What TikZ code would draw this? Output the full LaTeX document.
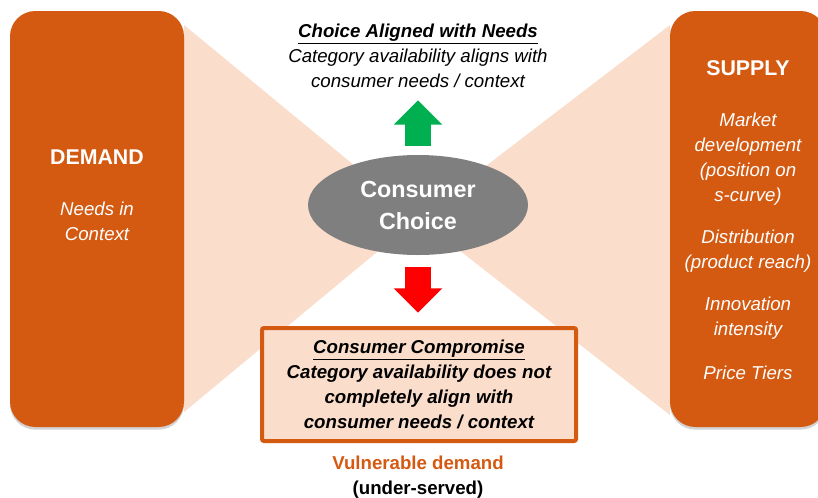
\documentclass[tikz,border=0pt]{standalone}
\usepackage{fontspec}
\setmainfont{Liberation Sans}
\usetikzlibrary{shapes.geometric, shapes.arrows, shadows, positioning}

\definecolor{boxorange}{RGB}{212,90,18}
\definecolor{funnelbeige}{RGB}{251,221,203}
\definecolor{choicegray}{RGB}{127,127,127}
\definecolor{upgreen}{RGB}{0,176,80}
\definecolor{downred}{RGB}{255,0,0}

\tikzset{
  panel/.style={fill=boxorange, rounded corners=19pt, inner sep=0pt,
    drop shadow={opacity=0.35, shadow xshift=0pt, shadow yshift=-2pt}},
  panelhead/.style={text=white, font=\fontsize{16}{18}\selectfont\bfseries},
  paneltext/.style={text=white, align=center, inner sep=0pt,
    font=\fontsize{14}{18.75}\selectfont\itshape},
  blockarrow/.style={single arrow, inner xsep=0pt, inner ysep=9.4pt, minimum height=34pt,
    minimum width=36pt, single arrow head extend=8.6pt},
}

\begin{document}
\begin{tikzpicture}[x=0.75pt, y=-0.75pt]
        \useasboundingbox (0,0) rectangle (818,497);
        \clip (0,0) rectangle (818,497);
        % funnels behind everything
        \fill[funnelbeige] (184,25) -- (418,218) -- (184,412) -- cycle;
        \fill[funnelbeige] (670,25) -- (418,218) -- (670,415) -- cycle;
        % Demand side
        \node[panel, minimum width=130.5pt, minimum height=312pt] (demandbox) at (97,219) {};
        \node[panelhead] (demand) at (97,157) {DEMAND};
        \node[paneltext] (needs) at (97,221.5) {Needs in\\Context};
        % Supply side
        \node[panel, minimum width=117pt, minimum height=312pt] (supplybox) at (748,219) {};
        \node[panelhead] (supply) at (748,68) {SUPPLY};
        \node[paneltext] (market) at (748,159) {Market\\development\\(position on\\s-curve)};
        \node[paneltext] (distribution) at (748,251.5) {Distribution\\(product reach)};
        \node[paneltext] (innovation) at (748,318) {Innovation\\intensity};
        \node[paneltext] (price) at (748,373) {Price Tiers};
        % Consumer choice in the middle
        \node[ellipse, fill=choicegray, minimum width=165pt, minimum height=75pt, inner sep=0pt,
              text=white, align=center, font=\fontsize{17.5}{24}\selectfont\bfseries] (choice) at (418,205) {Consumer\\Choice};
        \node[blockarrow, fill=upgreen, rotate=90] (up) at (418,129.5) {};
        \node[blockarrow, fill=downred, rotate=-90] (down) at (418,283.5) {};
        % Outcomes
        \node[align=center, inner sep=0pt, font=\fontsize{14}{18.75}\selectfont\itshape] (aligned) at (418,56)
              {\underline{\textbf{Choice Aligned with Needs}}\\Category availability aligns with\\consumer needs / context};
        \node[draw=boxorange, line width=3pt, fill=funnelbeige, minimum width=235.5pt, minimum height=84.75pt,
              rounded corners=1.5pt] (compromisebox) at (419,384.5) {};
        \node[align=center, inner sep=0pt, font=\fontsize{14}{18.75}\selectfont\bfseries\itshape] (compromise) at (419,384)
              {\underline{Consumer Compromise}\\Category availability does not\\completely align with\\consumer needs / context};
        \node[align=center, inner sep=0pt, font=\fontsize{14}{18.75}\selectfont\bfseries] (vulnerable) at (418,477)
              {\textcolor{boxorange}{Vulnerable demand}\\(under-served)};
\end{tikzpicture}
\end{document}
